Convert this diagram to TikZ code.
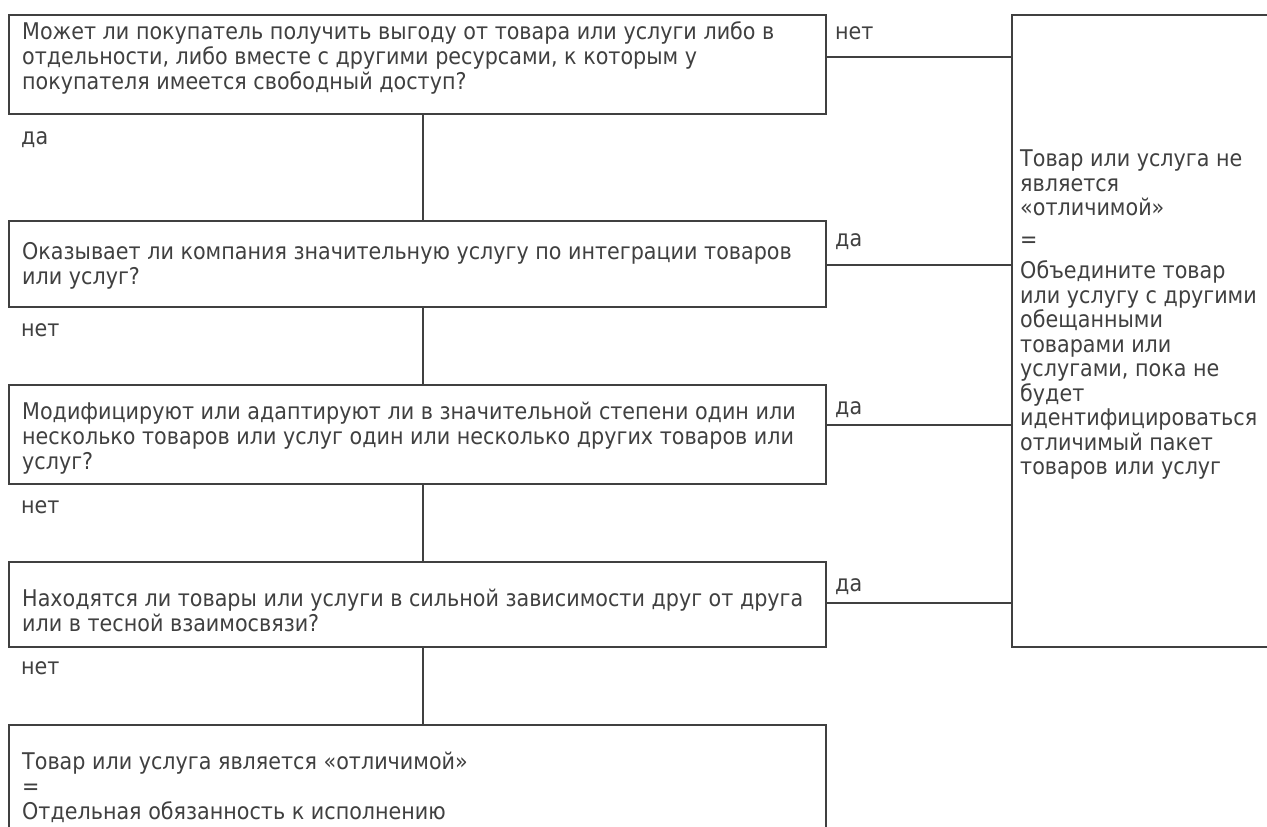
\documentclass[tikz,border=0pt]{standalone}
\usepackage{fontspec}
\setmainfont{DejaVu Sans}[FakeStretch=0.9]
\definecolor{ink}{HTML}{404040}
\newcommand\topstrut{\rule{0pt}{19pt}}
\begin{document}
\begin{tikzpicture}[x=1pt,y=-1pt,
  box/.style={draw=ink, line width=2.2pt, rectangle, inner sep=0pt, anchor=north west},
  txt/.style={text=ink, font=\fontsize{23}{25.2}\selectfont, align=left, inner sep=0pt, anchor=north west},
  coltxt/.style={txt, font=\fontsize{23}{24.5}\selectfont},
  conn/.style={draw=ink, line width=2.2pt}]
\useasboundingbox (0,0) rectangle (1267,827);
\clip (0,0) rectangle (1267,827);
\fill[white] (0,0) rectangle (1267,827);

% boxes
\node[box, minimum width=817pt, minimum height=99pt] (q1) at (8,14) {};
\node[box, minimum width=817pt, minimum height=86pt] (q2) at (8,220) {};
\node[box, minimum width=817pt, minimum height=99pt] (q3) at (8,384) {};
\node[box, minimum width=817pt, minimum height=85pt] (q4) at (8,561) {};
\node[box, minimum width=817pt, minimum height=130pt] (q5) at (8,724) {};
\node[box, minimum width=290pt, minimum height=632pt] (res) at (1011,14) {};

% box texts
\node[txt] (t1) at (22,20) {\topstrut Может ли покупатель получить выгоду от товара или услуги либо в\\отдельности, либо вместе с другими ресурсами, к которым у\\покупателя имеется свободный доступ?};
\node[txt] (t2) at (22,240) {\topstrut Оказывает ли компания значительную услугу по интеграции товаров\\или услуг?};
\node[txt] (t3) at (22,400) {\topstrut Модифицируют или адаптируют ли в значительной степени один или\\несколько товаров или услуг один или несколько других товаров или\\услуг?};
\node[txt] (t4) at (22,587) {\topstrut Находятся ли товары или услуги в сильной зависимости друг от друга\\или в тесной взаимосвязи?};
\node[txt] (t5) at (22,750) {\topstrut Товар или услуга является «отличимой»\\=\\Отдельная обязанность к исполнению};
\node[coltxt] (tr) at (1020,147.3) {\topstrut Товар или услуга не\\является\\«отличимой»\\[7pt]=\\[7pt]Объедините товар\\или услугу с другими\\обещанными\\товарами или\\услугами, пока не\\будет\\идентифицироваться\\отличимый пакет\\товаров или услуг};

% labels below boxes
\node[txt] (l1) at (21,125) {\topstrut да};
\node[txt] (l2) at (21,317) {\topstrut нет};
\node[txt] (l3) at (21,494) {\topstrut нет};
\node[txt] (l4) at (21,655) {\topstrut нет};

% labels to the right
\node[txt] (r1) at (835,20) {\topstrut нет};
\node[txt] (r2) at (835,227) {\topstrut да};
\node[txt] (r3) at (835,395) {\topstrut да};
\node[txt] (r4) at (835,572) {\topstrut да};

% vertical connectors
\coordinate (vx) at (423,0);
\draw[conn] (q1.south -| vx) -- (q2.north -| vx);
\draw[conn] (q2.south -| vx) -- (q3.north -| vx);
\draw[conn] (q3.south -| vx) -- (q4.north -| vx);
\draw[conn] (q4.south -| vx) -- (q5.north -| vx);

% horizontal connectors
\coordinate (h1) at (0,57);
\coordinate (h2) at (0,265);
\coordinate (h3) at (0,425);
\coordinate (h4) at (0,603);
\draw[conn] (q1.east |- h1) -- (res.west |- h1);
\draw[conn] (q2.east |- h2) -- (res.west |- h2);
\draw[conn] (q3.east |- h3) -- (res.west |- h3);
\draw[conn] (q4.east |- h4) -- (res.west |- h4);
\end{tikzpicture}
\end{document}
